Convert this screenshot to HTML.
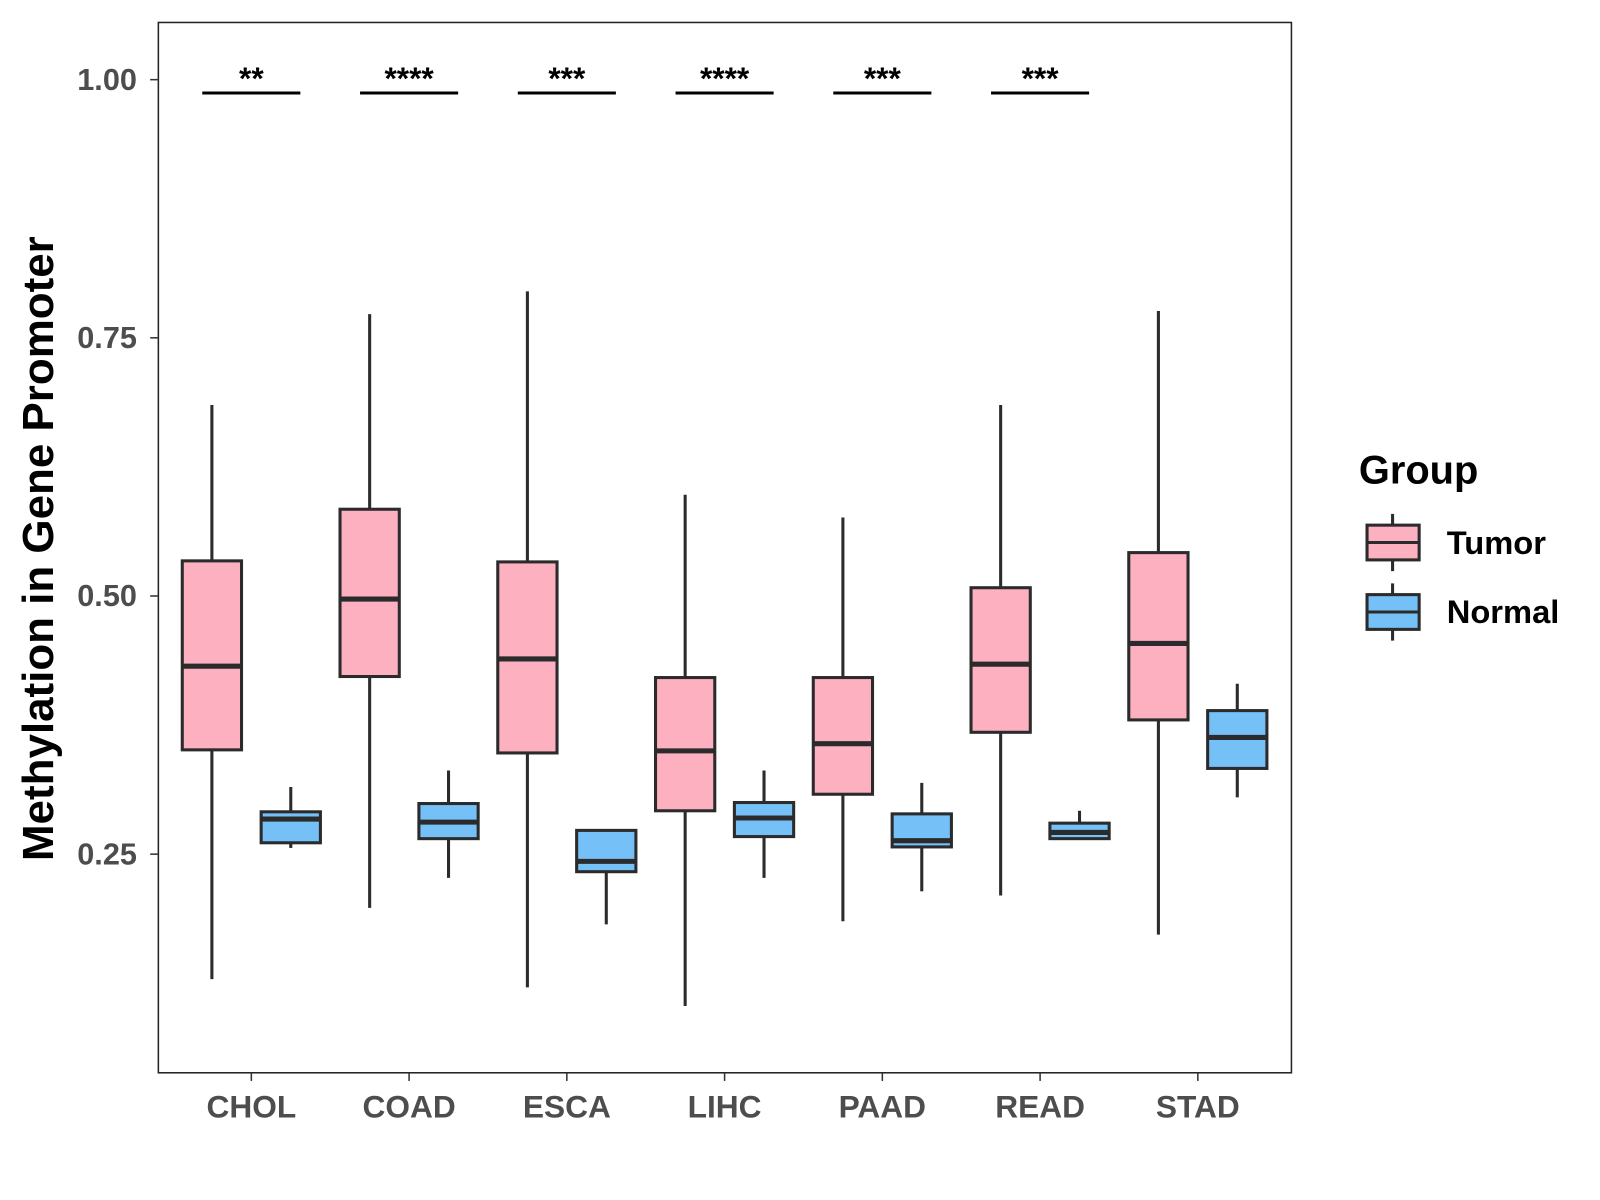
<!DOCTYPE html>
<html><head><meta charset="utf-8"><style>
body{margin:0;background:#fff}
svg{display:block;font-family:"Liberation Sans",Arial,sans-serif}
</style></head><body>
<svg width="1600" height="1200" viewBox="0 0 1600 1200"><g id="chart" transform="scale(1.0217)"></g></svg>
<script>
const categories=["CHOL","COAD","ESCA","LIHC","PAAD","READ","STAD"];
// [whiskerLow, Q1, median, Q3, whiskerHigh]
const tumorStats=[[0.129,0.351,0.432,0.534,0.685],[0.198,0.422,0.497,0.584,0.773],[0.121,0.348,0.439,0.533,0.795],[0.103,0.292,0.350,0.421,0.598],[0.185,0.308,0.357,0.421,0.576],[0.210,0.368,0.434,0.508,0.685],[0.172,0.380,0.454,0.542,0.776]];
const normalStats=[[0.256,0.261,0.284,0.291,0.315],[0.227,0.265,0.281,0.299,0.331],[0.182,0.233,0.243,0.273,0.273],[0.227,0.267,0.285,0.300,0.331],[0.214,0.257,0.263,0.289,0.319],[0.265,0.265,0.271,0.280,0.292],[0.305,0.333,0.363,0.389,0.415]];
const signif=["**","****","***","****","***","***"];
const yTicks=[0.25,0.50,0.75,1.00];
const yTickLabels=["0.25","0.50","0.75","1.00"];

const svg=document.getElementById('chart');
const NS="http://www.w3.org/2000/svg";
function mk(tag,attrs,parent){const e=document.createElementNS(NS,tag);for(const k in attrs)e.setAttribute(k,attrs[k]);(parent||svg).appendChild(e);return e;}
const y=v=>836-(v-0.25)*1010.7;
const x=i=>246+i*154.4;
const dark="#2b2b2b";

const panel=mk('rect',{x:155,y:22,width:1109,height:1028,fill:'none',stroke:'#222','stroke-width':1.5});



yTicks.forEach((t,i)=>{
  const tk=mk('line',{x1:147,x2:155,y1:y(t),y2:y(t),stroke:'#333','stroke-width':1.5});
  
  
  const tl=mk('text',{x:134,y:y(t)+10,'text-anchor':'end','font-size':30,'font-weight':'bold',fill:'#4d4d4d'});
  tl.textContent=yTickLabels[i];
  
  
});
categories.forEach((c,i)=>{
  const tk=mk('line',{x1:x(i),x2:x(i),y1:1050,y2:1058,stroke:'#333','stroke-width':1.5});
  
  
  const tl=mk('text',{x:x(i),y:1094,'text-anchor':'middle','font-size':31,'font-weight':'bold',fill:'#4d4d4d'});
  tl.textContent=c;
  
  
});
const yt=mk('text',{x:52,y:537,'text-anchor':'middle','font-size':43,'font-weight':'bold',fill:'#000',transform:'rotate(-90 52 537)'});
yt.textContent="Methylation in Gene Promoter";



function box(cx,s,fill,name){
  const g=mk('g',{});
  
  
  const w=58;
  mk('line',{x1:cx,x2:cx,y1:y(s[0]),y2:y(s[1]),stroke:dark,'stroke-width':3},g);
  mk('line',{x1:cx,x2:cx,y1:y(s[3]),y2:y(s[4]),stroke:dark,'stroke-width':3},g);
  mk('rect',{x:cx-w/2,y:y(s[3]),width:w,height:y(s[1])-y(s[3]),fill:fill,stroke:dark,'stroke-width':3},g);
  mk('line',{x1:cx-w/2,x2:cx+w/2,y1:y(s[2]),y2:y(s[2]),stroke:dark,'stroke-width':5},g);
}
categories.forEach((c,i)=>{
  box(x(i)-38.6,tumorStats[i],'#FDB0C0','box-tumor-'+c.toLowerCase());
  box(x(i)+38.6,normalStats[i],'#75C0F6','box-normal-'+c.toLowerCase());
});
signif.forEach((s,i)=>{
  const l=mk('line',{x1:x(i)-48,x2:x(i)+48,y1:91,y2:91,stroke:'#000','stroke-width':3});
  
  
  const t=mk('text',{x:x(i),y:87,'text-anchor':'middle','font-size':31,'font-weight':'bold',fill:'#000'});
  t.textContent=s;
  
  
});
// legend
const lg=mk('g',{});


const ltitle=mk('text',{x:1330,y:473,'font-size':39,'font-weight':'bold',fill:'#000'},lg);
ltitle.textContent="Group";
[['Tumor','#FDB0C0',531],['Normal','#75C0F6',599]].forEach(([n,f,cy])=>{
  const e=mk('g',{},lg);
  
  
  mk('line',{x1:1363,x2:1363,y1:cy-28,y2:cy+28,stroke:dark,'stroke-width':3},e);
  mk('rect',{x:1338,y:cy-17,width:51,height:34,fill:f,stroke:dark,'stroke-width':3},e);
  mk('line',{x1:1338,x2:1389,y1:cy,y2:cy,stroke:dark,'stroke-width':3},e);
  const t=mk('text',{x:1416,y:cy+11,'font-size':32,'font-weight':'bold',fill:'#000'},e);
  t.textContent=n;
});
</script>
</body></html>
